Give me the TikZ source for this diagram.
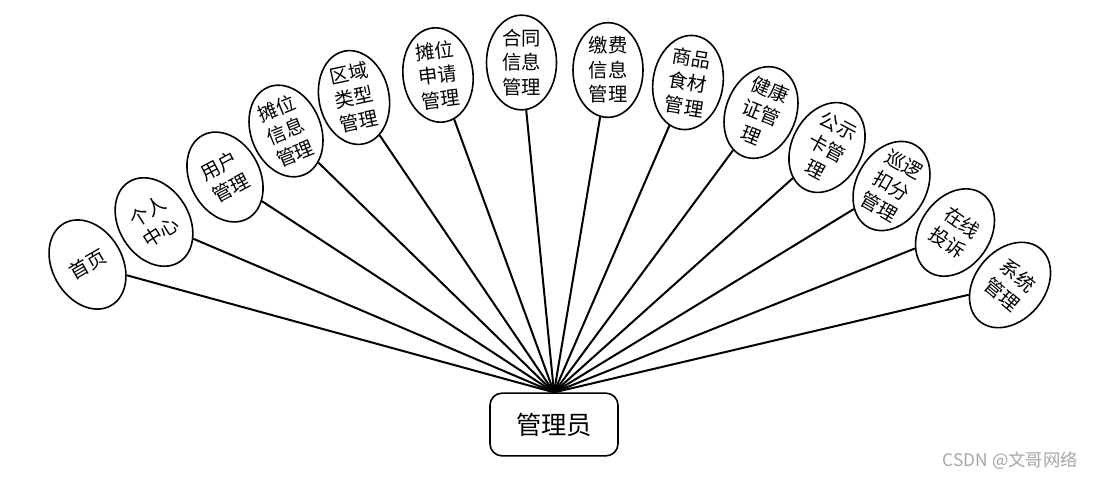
\documentclass[tikz,border=0pt]{standalone}
\usepackage{fontspec}
\setmainfont{Noto Sans CJK SC}
\usetikzlibrary{shapes.geometric}

\begin{document}
\begin{tikzpicture}[x=0.75pt,y=-0.75pt,
	mainnode/.style={draw,line width=1.2pt,rounded corners=9pt,minimum width=96pt,minimum height=47pt,font=\fontsize{19}{21}\selectfont},
	subnode/.style={draw,line width=1.2pt,shape=ellipse,fill=white,minimum width=52.5pt,minimum height=71pt,inner sep=-2pt,align=center,font=\fontsize{14.5}{18.4}\selectfont},
	link/.style={line width=1.5pt}]
	\useasboundingbox (0,0) rectangle (1094,479);
	\node[mainnode] (admin) at (554,424.5) {管理员};
	\foreach \x/\y/\r/\t [count=\i] in {87.5/264.5/30/{首页}, 154/222/32/{个人\\中心}, 225/177/28/{用户\\管理}, 286/131/22/{摊位\\信息\\管理}, 354/97.5/12/{区域\\类型\\管理}, 438/75/7/{摊位\\申请\\管理}, 521.5/62.5/0/{合同\\信息\\管理}, 608/70/0/{缴费\\信息\\管理}, 688/82.5/-9/{商品\\食材\\管理}, 761/112.5/-22/{健康\\证管\\理}, 827/147.5/-28/{公示\\卡管\\理}, 891.5/186/-30/{巡逻\\扣分\\管理}, 955/232.5/-35/{在线\\投诉}, 1010/285/-40/{系统\\管理}}
	{
	\node[subnode,rotate=\r] (m\i) at (\x,\y) {\t};
	\draw[link] (admin.north) -- (m\i);
	}
	\node[text=black!35,font=\fontsize{13}{15}\selectfont,anchor=east,inner sep=0pt] (mark) at (1078,461) {CSDN @文哥网络};
\end{tikzpicture}
\end{document}
